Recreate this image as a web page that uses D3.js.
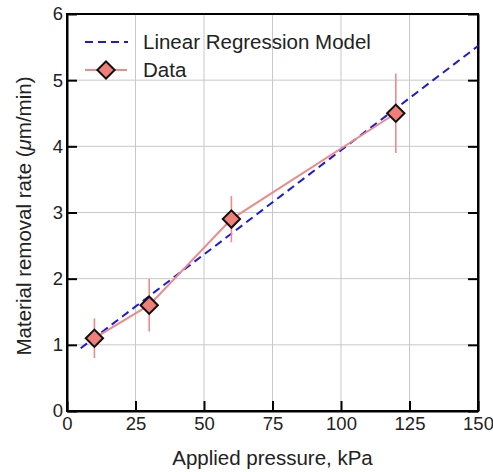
<!DOCTYPE html>
<html><head><meta charset="utf-8">
<script src="https://cdn.jsdelivr.net/npm/d3@7"></script>
<style>body{margin:0;background:#fff}svg{display:block}text{font-family:"Liberation Sans",Arial,sans-serif}</style>
</head><body>
<script>
// Measured pressures and removal rates with their spread
const pressure = [10, 30, 60, 120];
const removalRate = [1.1, 1.6, 2.9, 4.5];
const rateError = [0.3, 0.4, 0.35, 0.6];
// Least-squares fit endpoints
const fitX = [5, 150];
const fitSlope = 0.0315, fitIntercept = 0.791;
const xTicks = [0, 25, 50, 75, 100, 125, 150];
const yTicks = [0, 1, 2, 3, 4, 5, 6];

const W = 493, H = 472;
const m = {l: 67, r: 15, t: 14, b: 61};
const svg = d3.select("body").append("svg").attr("width", W).attr("height", H);
const x = d3.scaleLinear().domain([0, 150]).range([m.l, W - m.r]);
const y = d3.scaleLinear().domain([0, 6]).range([H - m.b, m.t]);

// grid
svg.append("g").selectAll("line").data(xTicks).join("line")
  .attr("x1", d => x(d)).attr("x2", d => x(d)).attr("y1", y(0)).attr("y2", y(6))
  .attr("stroke", "#c8c8c8").attr("stroke-width", 1);
svg.append("g").selectAll("line").data(yTicks).join("line")
  .attr("y1", d => y(d)).attr("y2", d => y(d)).attr("x1", x(0)).attr("x2", x(150))
  .attr("stroke", "#c8c8c8").attr("stroke-width", 1);

// frame
svg.append("rect").attr("x", x(0)).attr("y", y(6))
  .attr("width", x(150) - x(0)).attr("height", y(0) - y(6))
  .attr("fill", "none").attr("stroke", "#000").attr("stroke-width", 2);

// axes with inward ticks
const tk = 10;
const bottom = svg.append("g").attr("transform", `translate(0,${y(0)})`)
  .call(d3.axisBottom(x).tickValues(xTicks).tickSize(-tk).tickSizeOuter(0).tickPadding(5));
const left = svg.append("g").attr("transform", `translate(${x(0)},0)`)
  .call(d3.axisLeft(y).tickValues(yTicks).tickFormat(d3.format("d")).tickSize(-tk).tickSizeOuter(0).tickPadding(4));
svg.append("g").attr("transform", `translate(${x(150)},0)`)
  .call(d3.axisRight(y).tickValues(yTicks).tickSize(-tk).tickSizeOuter(0).tickFormat(""));
svg.selectAll(".domain").attr("stroke", "#000").attr("stroke-width", 2);
svg.selectAll(".tick line").attr("stroke", "#000").attr("stroke-width", 2);
svg.selectAll(".tick text").attr("font-size", 18.5).attr("fill", "#222")
  .attr("font-family", "'Liberation Sans',Arial,sans-serif");
bottom.selectAll(".tick text").attr("dy", "0.75em");

// regression line
svg.append("line")
  .attr("x1", x(fitX[0])).attr("y1", y(fitIntercept + fitSlope * fitX[0]))
  .attr("x2", x(fitX[1])).attr("y2", y(fitIntercept + fitSlope * fitX[1]))
  .attr("stroke", "#1a1ae0").attr("stroke-width", 2).attr("stroke-dasharray", "8,5");

const pts = pressure.map((p, i) => ({p, r: removalRate[i], e: rateError[i]}));
const pink = "#ee8a8a";
// error bars
svg.append("g").selectAll("line").data(pts).join("line")
  .attr("x1", d => x(d.p)).attr("x2", d => x(d.p))
  .attr("y1", d => y(d.r - d.e)).attr("y2", d => y(d.r + d.e))
  .attr("stroke", pink).attr("stroke-width", 1.6);
// connecting line
svg.append("path").datum(pts)
  .attr("d", d3.line().x(d => x(d.p)).y(d => y(d.r)))
  .attr("fill", "none").attr("stroke", pink).attr("stroke-width", 2);
// diamonds
const diamond = d3.symbol().type(d3.symbolSquare).size(150);
svg.append("g").selectAll("path").data(pts).join("path")
  .attr("d", diamond)
  .attr("transform", d => `translate(${x(d.p)},${y(d.r)}) rotate(45)`)
  .attr("fill", "#f07f7a").attr("stroke", "#111").attr("stroke-width", 2);

// legend
const lg = svg.append("g");
lg.append("line").attr("x1", 85).attr("x2", 128).attr("y1", 42).attr("y2", 42)
  .attr("stroke", "#1a1ae0").attr("stroke-width", 2).attr("stroke-dasharray", "8,5");
lg.append("text").attr("x", 143).attr("y", 49).attr("font-size", 20.5).attr("fill", "#222")
  .text("Linear Regression Model");
lg.append("line").attr("x1", 85).attr("x2", 127).attr("y1", 70).attr("y2", 70)
  .attr("stroke", pink).attr("stroke-width", 2);
lg.append("path").attr("d", diamond).attr("transform", "translate(106,70) rotate(45)")
  .attr("fill", "#f07f7a").attr("stroke", "#111").attr("stroke-width", 2);
lg.append("text").attr("x", 143).attr("y", 77).attr("font-size", 20.5).attr("fill", "#222")
  .text("Data");

// axis titles
svg.append("text").attr("x", x(75)).attr("y", 465).attr("text-anchor", "middle")
  .attr("font-size", 20.5).attr("fill", "#222").text("Applied pressure, kPa");
const yt = svg.append("text").attr("transform", `translate(31,216) rotate(-90)`)
  .attr("text-anchor", "middle").attr("font-size", 20.5).attr("fill", "#222");
yt.append("tspan").text("Material removal rate (");
yt.append("tspan").attr("font-style", "italic").text("μ");
yt.append("tspan").text("m/min)");
</script>
</body></html>
